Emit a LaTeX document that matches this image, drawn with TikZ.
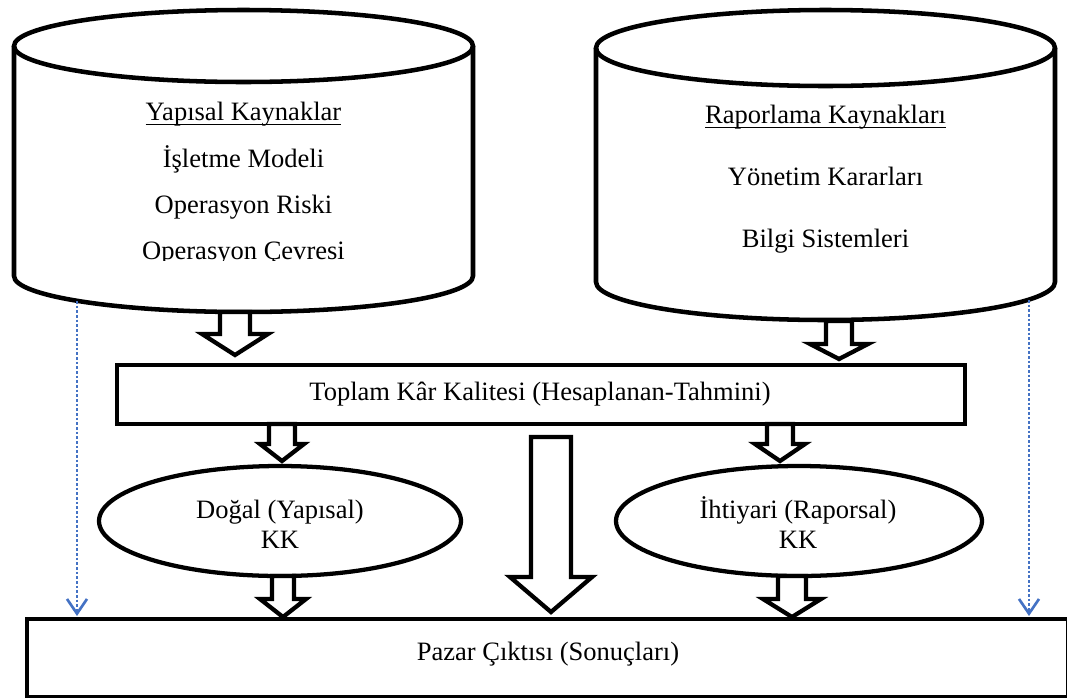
\documentclass[tikz,border=0pt]{standalone}
\usepackage{fontspec}
\setmainfont{Liberation Serif}
\usetikzlibrary{arrows.meta,shapes.geometric}
\definecolor{dotblue}{RGB}{68,114,196}
\newcommand\ulwd[1]{\setbox0\hbox{#1}\rlap{\rule[-4pt]{\wd0}{0.9pt}}\box0}
\newcommand\blockarrow[6]{%
  \draw[barrow] ({#1-#5},#2) -- ({#1-#5},#3) -- ({#1-#6},#3) -- (#1,#4) -- ({#1+#6},#3) -- ({#1+#5},#3) -- ({#1+#5},#2) -- cycle;}
\begin{document}
\begin{tikzpicture}[x=0.75pt,y=-0.75pt,
  shapeline/.style={draw=black,line width=3.4pt},
  boxnode/.style={draw=black,line width=3.2pt,inner sep=0pt,outer sep=0pt},
  barrow/.style={draw=black,fill=white,line width=3.2pt,line join=miter},
  lbl/.style={anchor=base,inner sep=0pt,font=\fontsize{19.9}{24}\selectfont},
  dotarrow/.style={draw=dotblue,line width=2pt,dash pattern=on 2pt off 1.5pt,-{Straight Barb[length=11pt,width=15pt]}}]
\useasboundingbox (0,0) rectangle (1067,697);
\clip (0,0) rectangle (1067,697);

% left cylinder
\coordinate (cylL) at (243.5,161);
\draw[shapeline,fill=white] (14,46) -- (14,276) arc[start angle=180,end angle=360,x radius=172.125pt,y radius=27pt] -- (473,46);
\draw[shapeline] (243.5,46) ellipse [x radius=172.125pt, y radius=27pt];
\node[lbl] (yk) at (243.5,120) {\ulwd{Yapısal Kaynaklar}};
\node[lbl] (im) at (243.5,167) {İşletme Modeli};
\node[lbl] (ori) at (243.5,213) {Operasyon Riski};
\begin{scope}
  \clip (14,80) rectangle (473,260);
  \node[lbl] (oc) at (243.5,259.5) {Operasyon Çevresi};
\end{scope}

% right cylinder
\coordinate (cylR) at (825.5,165);
\draw[shapeline,fill=white] (596,48) -- (596,282) arc[start angle=180,end angle=360,x radius=172.125pt,y radius=28.5pt] -- (1055,48);
\draw[shapeline] (825.5,48) ellipse [x radius=172.125pt, y radius=28.5pt];
\node[lbl] (rk) at (825.5,123) {\ulwd{Raporlama Kaynakları}};
\node[lbl] (yka) at (825.5,185) {Yönetim Kararları};
\node[lbl] (bs) at (825.5,247) {Bilgi Sistemleri};

% middle box
\node[boxnode,minimum width=636pt,minimum height=44.25pt] (toplam) at (541,394.5) {};
\node[lbl] (toplamt) at (540,400) {Toplam Kâr Kalitesi (Hesaplanan-Tahmini)};

% ellipses
\node[boxnode,ellipse,minimum width=271.5pt,minimum height=82.5pt] (dogal) at (280,521) {};
\node[lbl] (dogal1) at (280,518) {Doğal (Yapısal)};
\node[lbl] (dogal2) at (280,548) {KK};
\node[boxnode,ellipse,minimum width=274.5pt,minimum height=82.5pt] (ihti) at (799,521) {};
\node[lbl] (ihti1) at (798,518) {İhtiyari (Raporsal)};
\node[lbl] (ihti2) at (798,548) {KK};

% bottom box
\node[boxnode,minimum width=781.1pt,minimum height=58.9pt] (pazar) at (547.75,658.25) {};
\node[lbl] (pazart) at (548,660) {Pazar Çıktısı (Sonuçları)};

% block arrows
\blockarrow{235}{312}{334}{355}{15}{33}
\blockarrow{839}{321}{344}{359}{13}{29}
\blockarrow{282}{424}{444}{461}{13}{22}
\blockarrow{780}{424}{444}{461}{13}{25}
\blockarrow{283}{576}{599}{617}{11}{23}
\blockarrow{792}{576}{599}{617}{14}{29}
\blockarrow{551}{437}{577}{612}{20}{41}

% dotted arrows
\coordinate (dLs) at (77,301);
\coordinate (dLe) at (77,616);
\coordinate (dRs) at (1029,300);
\coordinate (dRe) at (1029,616);
\draw[dotarrow] (dLs) -- (dLe);
\draw[dotarrow] (dRs) -- (dRe);
\end{tikzpicture}
\end{document}
